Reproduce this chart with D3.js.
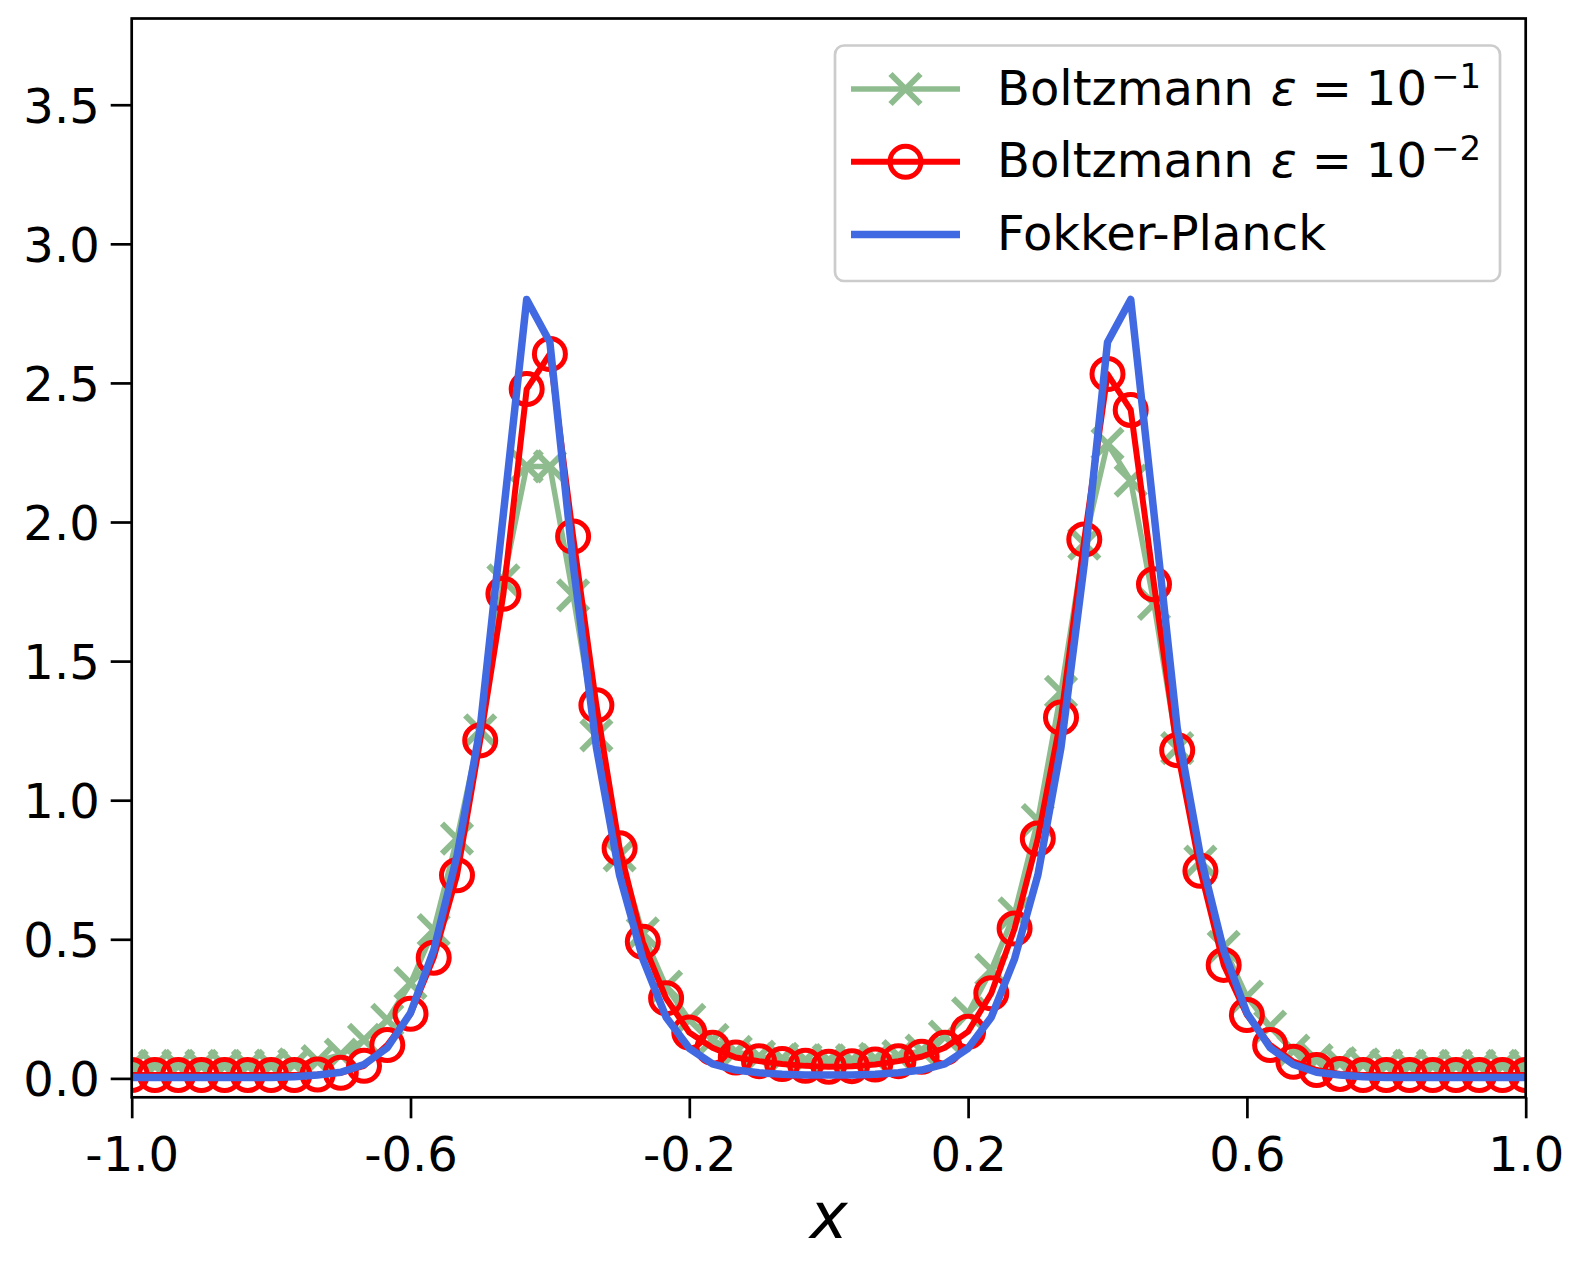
<!DOCTYPE html>
<html lang="en">
  <head>
    <meta charset="utf-8" />
    <title>Boltzmann vs Fokker-Planck</title>
    <style>
      body { margin: 0; background: #fff; }
      text { font-family: "DejaVu Sans", sans-serif; fill: #000; }
    </style>
  </head>
  <body>
    <svg id="chart" width="1586" height="1271"></svg>
    <script src="https://d3js.org/d3.v7.min.js"></script>
    <script>
      // mesh points (x = -1 .. 1, step 1/30)
      const xGrid = [
        -1.0, -0.9667, -0.9333, -0.9, -0.8667, -0.8333, -0.8, -0.7667, -0.7333, -0.7,
        -0.6667, -0.6333, -0.6, -0.5667, -0.5333, -0.5, -0.4667, -0.4333, -0.4, -0.3667,
        -0.3333, -0.3, -0.2667, -0.2333, -0.2, -0.1667, -0.1333, -0.1, -0.0667, -0.0333,
        0.0, 0.0333, 0.0667, 0.1, 0.1333, 0.1667, 0.2, 0.2333, 0.2667, 0.3,
        0.3333, 0.3667, 0.4, 0.4333, 0.4667, 0.5, 0.5333, 0.5667, 0.6, 0.6333,
        0.6667, 0.7, 0.7333, 0.7667, 0.8, 0.8333, 0.8667, 0.9, 0.9333, 0.9667, 1.0
      ];

      // Boltzmann eps = 1e-1 (green crosses)
      const boltzmannEps1 = [
        0.045, 0.045, 0.045, 0.045, 0.045, 0.045, 0.046, 0.05, 0.062, 0.085,
        0.138, 0.21, 0.342, 0.533, 0.862, 1.251, 1.79, 2.2, 2.2, 1.736,
        1.233, 0.802, 0.521, 0.33, 0.21, 0.138, 0.095, 0.078, 0.07, 0.066,
        0.065, 0.066, 0.07, 0.08, 0.1, 0.15, 0.234, 0.39, 0.593, 0.928,
        1.389, 1.922, 2.281, 2.149, 1.706, 1.187, 0.779, 0.473, 0.294, 0.186,
        0.1, 0.066, 0.055, 0.05, 0.046, 0.045, 0.045, 0.045, 0.045, 0.045, 0.045
      ];

      // Boltzmann eps = 1e-2 (red circles)
      const boltzmannEps2 = [
        0.012, 0.012, 0.012, 0.012, 0.012, 0.012, 0.012, 0.012, 0.014, 0.02,
        0.045, 0.12, 0.232, 0.434, 0.73, 1.215, 1.742, 2.478, 2.604, 1.948,
        1.341, 0.827, 0.491, 0.288, 0.165, 0.11, 0.075, 0.062, 0.052, 0.045,
        0.042, 0.044, 0.05, 0.062, 0.078, 0.11, 0.168, 0.306, 0.539, 0.862,
        1.297, 1.937, 2.532, 2.403, 1.776, 1.18, 0.746, 0.408, 0.228, 0.12,
        0.06, 0.03, 0.016, 0.012, 0.012, 0.012, 0.012, 0.012, 0.012, 0.012, 0.012
      ];

      // Fokker-Planck (blue line)
      const fokkerPlanck = [
        0.003, 0.003, 0.003, 0.003, 0.003, 0.003, 0.003, 0.006, 0.012, 0.022,
        0.05, 0.11, 0.235, 0.46, 0.8, 1.26, 2.03, 2.8, 2.646, 1.85,
        1.19, 0.73, 0.43, 0.22, 0.108, 0.052, 0.03, 0.02, 0.015, 0.012,
        0.012, 0.012, 0.015, 0.02, 0.03, 0.052, 0.108, 0.22, 0.43, 0.73,
        1.19, 1.85, 2.646, 2.8, 2.03, 1.26, 0.8, 0.46, 0.235, 0.11,
        0.05, 0.022, 0.012, 0.006, 0.003, 0.003, 0.003, 0.003, 0.003, 0.003, 0.003
      ];

      const xTicks = [-1.0, -0.6, -0.2, 0.2, 0.6, 1.0];
      const xTickLabels = ["-1.0", "-0.6", "-0.2", "0.2", "0.6", "1.0"];
      const yTicks = [0.0, 0.5, 1.0, 1.5, 2.0, 2.5, 3.0, 3.5];
      const yTickLabels = ["0.0", "0.5", "1.0", "1.5", "2.0", "2.5", "3.0", "3.5"];

      const seriesNames = ["Boltzmann", "Boltzmann", "Fokker-Planck"];
      const seriesSup = ["\u22121", "\u22122", null];

      const margin = { left: 131.7, right: 1525.7, top: 18.5, bottom: 1097.3 };
      const width = margin.right - margin.left,
        height = margin.bottom - margin.top;

      const svg = d3.select("#chart");
      svg.append("rect").attr("width", 1586).attr("height", 1271).attr("fill", "#fff");

      const chart = svg
        .append("g")
        .attr("transform", "translate(" + margin.left + "," + margin.top + ")");

      const xScale = d3.scaleLinear().domain([-1, 1]).range([0, width]);
      const yScale = d3.scaleLinear().domain([-0.068, 3.81]).range([height, 0]);

      chart.append("clipPath").attr("id", "plot-clip")
        .append("rect").attr("width", width).attr("height", height);

      const plot = chart.append("g").attr("clip-path", "url(#plot-clip)");

      const line = d3.line()
        .x((d) => xScale(d[0]))
        .y((d) => yScale(d[1]));

      const green = "#8fbc8f", red = "#ff0000", blue = "#4169e1";
      const crossPath = "M-15,-15L15,15M-15,15L15,-15";

      // green series
      const greenData = xGrid.map((x, i) => [x, boltzmannEps1[i]]);
      plot.append("path").datum(greenData)
        .attr("d", line).attr("fill", "none").attr("stroke", green)
        .attr("stroke-width", 5.5).attr("stroke-linejoin", "round");
      plot.selectAll(".cross").data(greenData).join("path")
        .attr("class", "cross")
        .attr("transform", (d) => "translate(" + xScale(d[0]) + "," + yScale(d[1]) + ")")
        .attr("d", crossPath).attr("stroke", green).attr("stroke-width", 6)
        .attr("fill", "none");

      // red series
      const redData = xGrid.map((x, i) => [x, boltzmannEps2[i]]);
      plot.append("path").datum(redData)
        .attr("d", line).attr("fill", "none").attr("stroke", red)
        .attr("stroke-width", 6).attr("stroke-linejoin", "round");
      plot.selectAll(".circ").data(redData).join("circle")
        .attr("class", "circ")
        .attr("cx", (d) => xScale(d[0])).attr("cy", (d) => yScale(d[1]))
        .attr("r", 15.5).attr("fill", "none").attr("stroke", red)
        .attr("stroke-width", 5);

      // blue series
      const blueData = xGrid.map((x, i) => [x, fokkerPlanck[i]]);
      plot.append("path").datum(blueData)
        .attr("d", line).attr("fill", "none").attr("stroke", blue)
        .attr("stroke-width", 7.5).attr("stroke-linejoin", "round");

      // axes
      const xAxis = chart.append("g")
        .attr("transform", "translate(0," + height + ")")
        .call(d3.axisBottom(xScale).tickValues(xTicks)
          .tickFormat((d, i) => xTickLabels[i]).tickSize(21).tickSizeOuter(0));
      xAxis.select(".domain").remove();
      xAxis.selectAll(".tick line").attr("stroke", "#000").attr("stroke-width", 2.7);
      xAxis.selectAll(".tick text")
        .attr("y", 73.7).attr("dy", 0)
        .style("font-size", "48px").style("font-family", "DejaVu Sans");

      const yAxis = chart.append("g")
        .call(d3.axisLeft(yScale).tickValues(yTicks)
          .tickFormat((d, i) => yTickLabels[i]).tickSize(21).tickSizeOuter(0));
      yAxis.select(".domain").remove();
      yAxis.selectAll(".tick line").attr("stroke", "#000").attr("stroke-width", 2.7);
      yAxis.selectAll(".tick text")
        .attr("x", -32).attr("y", 17.5).attr("dy", 0)
        .style("font-size", "48px").style("font-family", "DejaVu Sans");

      // spines
      chart.append("rect")
        .attr("width", width).attr("height", height)
        .attr("fill", "none").attr("stroke", "#000").attr("stroke-width", 2.7);

      // x label
      svg.append("text")
        .attr("x", margin.left + width / 2).attr("y", 1238)
        .attr("text-anchor", "middle")
        .style("font-size", "64px").style("font-style", "italic")
        .text("x");

      // legend
      const legend = svg.append("g");
      legend.append("rect")
        .attr("x", 835).attr("y", 45.5).attr("width", 665).attr("height", 235.5)
        .attr("rx", 9).attr("fill", "#fff").attr("fill-opacity", 0.8)
        .attr("stroke", "#cccccc").attr("stroke-width", 2.7);

      const rowY = [89, 161.8, 234.5];
      const colors = [green, red, blue];
      const widths = [5.5, 6, 7.5];
      rowY.forEach((y, i) => {
        legend.append("line")
          .attr("x1", 851).attr("x2", 960).attr("y1", y).attr("y2", y)
          .attr("stroke", colors[i]).attr("stroke-width", widths[i]);
        if (i === 0) {
          legend.append("path")
            .attr("transform", "translate(905.5," + y + ")")
            .attr("d", crossPath).attr("stroke", green).attr("stroke-width", 6)
            .attr("fill", "none");
        } else if (i === 1) {
          legend.append("circle")
            .attr("cx", 905.5).attr("cy", y).attr("r", 15.5)
            .attr("fill", "none").attr("stroke", red).attr("stroke-width", 5);
        }
        const t = legend.append("text")
          .attr("x", 997).attr("y", y + 15.5)
          .style("font-size", "48px");
        t.append("tspan").text(seriesNames[i]);
        if (seriesSup[i]) {
          t.append("tspan").attr("dx", 17).style("font-style", "italic").text("\u03b5");
          t.append("tspan").attr("dx", 15).text("=");
          t.append("tspan").attr("dx", 14).text("10");
          t.append("tspan").attr("dx", 4).attr("dy", -17).style("font-size", "34px").text(seriesSup[i]);
        }
      });
    </script>
  </body>
</html>
